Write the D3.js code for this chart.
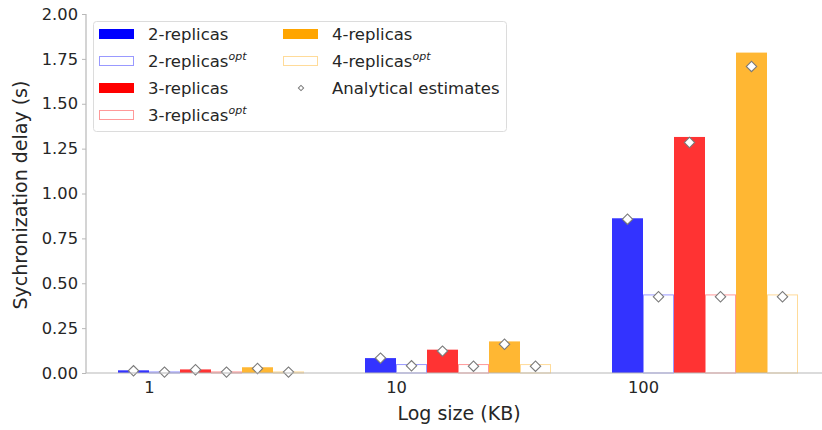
<!DOCTYPE html>
<html>
<head>
<meta charset="utf-8">
<script src="https://cdn.jsdelivr.net/npm/d3@7"></script>
<style>
  html, body { margin: 0; padding: 0; background: #fff; }
  svg { display: block; font-family: "DejaVu Sans", sans-serif; }
</style>
</head>
<body>
<svg id="chart" width="822" height="430"></svg>
<script>
// Log sizes on the x axis
const categories = ["1", "10", "100"];

// Measured synchronization delay (s) per replica configuration
const rep2    = [0.015, 0.083, 0.862];
const rep2opt = [0.006, 0.047, 0.435];
const rep3    = [0.020, 0.130, 1.315];
const rep3opt = [0.006, 0.047, 0.435];
const rep4    = [0.032, 0.176, 1.785];
const rep4opt = [0.006, 0.047, 0.435];

// Analytical estimates for the same bars
const est2    = [0.012, 0.083, 0.857];
const est2opt = [0.005, 0.040, 0.425];
const est3    = [0.018, 0.122, 1.284];
const est3opt = [0.005, 0.038, 0.425];
const est4    = [0.025, 0.160, 1.708];
const est4opt = [0.005, 0.038, 0.425];

const yTicks = [0, 0.25, 0.5, 0.75, 1.0, 1.25, 1.5, 1.75, 2.0];

const series = [
  { key: "2-replicas",    opt: false, color: "#0000ff", values: rep2,    est: est2 },
  { key: "2-replicasopt", opt: true,  color: "#0000ff", values: rep2opt, est: est2opt },
  { key: "3-replicas",    opt: false, color: "#ff0000", values: rep3,    est: est3 },
  { key: "3-replicasopt", opt: true,  color: "#ff0000", values: rep3opt, est: est3opt },
  { key: "4-replicas",    opt: false, color: "#ffa500", values: rep4,    est: est4 },
  { key: "4-replicasopt", opt: true,  color: "#ffa500", values: rep4opt, est: est4opt }
];

const svg = d3.select("#chart");
const plotLeft = 86, plotBottom = 373, plotTop = 14, plotRight = 822;

const x = d3.scalePoint().domain(categories).range([149, 643]);
// bars within a group: the first bar ends at the group tick
const xs = d3.scaleBand().domain(series.map(s => s.key)).range([-31, 155]).padding(0);
const y = d3.scaleLinear().domain([0, 2]).range([plotBottom, plotTop]);

const axisColor = "#b8b8b8";
const textColor = "#262626";

// bars
series.forEach(s => {
  const g = svg.append("g");
  g.selectAll("rect")
    .data(categories.map((c, i) => ({ c, v: s.values[i] })))
    .join("rect")
    .attr("x", d => x(d.c) + xs(s.key) + (s.opt ? 0.5 : 0))
    .attr("y", d => y(d.v))
    .attr("width", xs.bandwidth() - (s.opt ? 1 : 0))
    .attr("height", d => plotBottom - y(d.v))
    .attr("fill", s.opt ? "none" : s.color)
    .attr("fill-opacity", s.opt ? 0 : 0.8)
    .attr("stroke", s.opt ? s.color : "none")
    .attr("stroke-opacity", 0.4)
    .attr("stroke-width", 1);
});

// analytical estimate markers
const diamond = d3.symbol().type(d3.symbolSquare).size(54);
series.forEach(s => {
  svg.append("g").selectAll("path")
    .data(categories.map((c, i) => ({ c, v: s.est[i] })))
    .join("path")
    .attr("d", diamond)
    .attr("transform", d => `translate(${x(d.c) + xs(s.key) + xs.bandwidth() / 2},${y(d.v)}) rotate(45)`)
    .attr("fill", "#fff")
    .attr("stroke", "#7a7a7a")
    .attr("stroke-width", 1.1);
});

// y axis
const yAxis = svg.append("g")
  .attr("transform", `translate(${plotLeft},0)`)
  .call(d3.axisLeft(y).tickValues(yTicks).tickFormat(d3.format(".2f")).tickSize(4).tickPadding(4));
yAxis.select(".domain").attr("stroke", axisColor).attr("stroke-width", 1.2).attr("d", `M0,${plotTop}V${plotBottom}`);
yAxis.selectAll(".tick line").attr("stroke", axisColor);
yAxis.selectAll(".tick text").attr("font-size", 16.3).attr("fill", textColor).attr("font-family", "DejaVu Sans");

// x axis
const xAxis = svg.append("g")
  .attr("transform", `translate(0,${plotBottom})`)
  .call(d3.axisBottom(x).tickSize(0).tickPadding(8));
xAxis.select(".domain").attr("stroke", axisColor).attr("stroke-width", 1.2).attr("d", `M${plotLeft},0H${plotRight}`);
xAxis.selectAll(".tick text").attr("font-size", 16.3).attr("fill", textColor).attr("font-family", "DejaVu Sans");

// axis titles
svg.append("text")
  .attr("x", 459).attr("y", 420)
  .attr("text-anchor", "middle")
  .attr("font-size", 19).attr("fill", textColor)
  .text("Log size (KB)");

svg.append("text")
  .attr("transform", "translate(27,195) rotate(-90)")
  .attr("text-anchor", "middle")
  .attr("font-size", 19).attr("fill", textColor)
  .text("Sychronization delay (s)");

// legend
const legend = svg.append("g");
legend.append("rect")
  .attr("x", 93.5).attr("y", 21.5).attr("width", 413).attr("height", 110)
  .attr("rx", 3).attr("fill", "#fff").attr("fill-opacity", 0.8)
  .attr("stroke", "#dcdcdc").attr("stroke-width", 1);

const legendItems = [
  { s: series[0], col: 0, row: 0 },
  { s: series[1], col: 0, row: 1 },
  { s: series[2], col: 0, row: 2 },
  { s: series[3], col: 0, row: 3 },
  { s: series[4], col: 1, row: 0 },
  { s: series[5], col: 1, row: 1 }
];
const colX = [99, 283], rowY = [34, 61, 88, 115];

legendItems.forEach(({ s, col, row }) => {
  const px = colX[col], py = rowY[row];
  legend.append("rect")
    .attr("x", px + (s.opt ? 0.5 : 0)).attr("y", py - 5 + (s.opt ? 0.5 : 0))
    .attr("width", 35 - (s.opt ? 1 : 0)).attr("height", 10 - (s.opt ? 1 : 0))
    .attr("fill", s.opt ? "none" : s.color)
    .attr("stroke", s.opt ? s.color : "none")
    .attr("stroke-opacity", 0.4);
  const t = legend.append("text")
    .attr("x", px + 49).attr("y", py + 6)
    .attr("font-size", 16.5).attr("fill", textColor);
  t.append("tspan").text(s.key.replace("opt", ""));
  if (s.opt) {
    t.append("tspan").attr("font-size", 11).attr("font-style", "italic")
      .attr("dy", -7).text("opt");
  }
});

// estimate marker entry
legend.append("path")
  .attr("d", d3.symbol().type(d3.symbolSquare).size(14))
  .attr("transform", `translate(301,${rowY[2]}) rotate(45)`)
  .attr("fill", "#fff").attr("stroke", "#7a7a7a").attr("stroke-width", 1);
legend.append("text")
  .attr("x", 332).attr("y", rowY[2] + 6)
  .attr("font-size", 16.5).attr("fill", textColor)
  .text("Analytical estimates");
</script>
</body>
</html>
